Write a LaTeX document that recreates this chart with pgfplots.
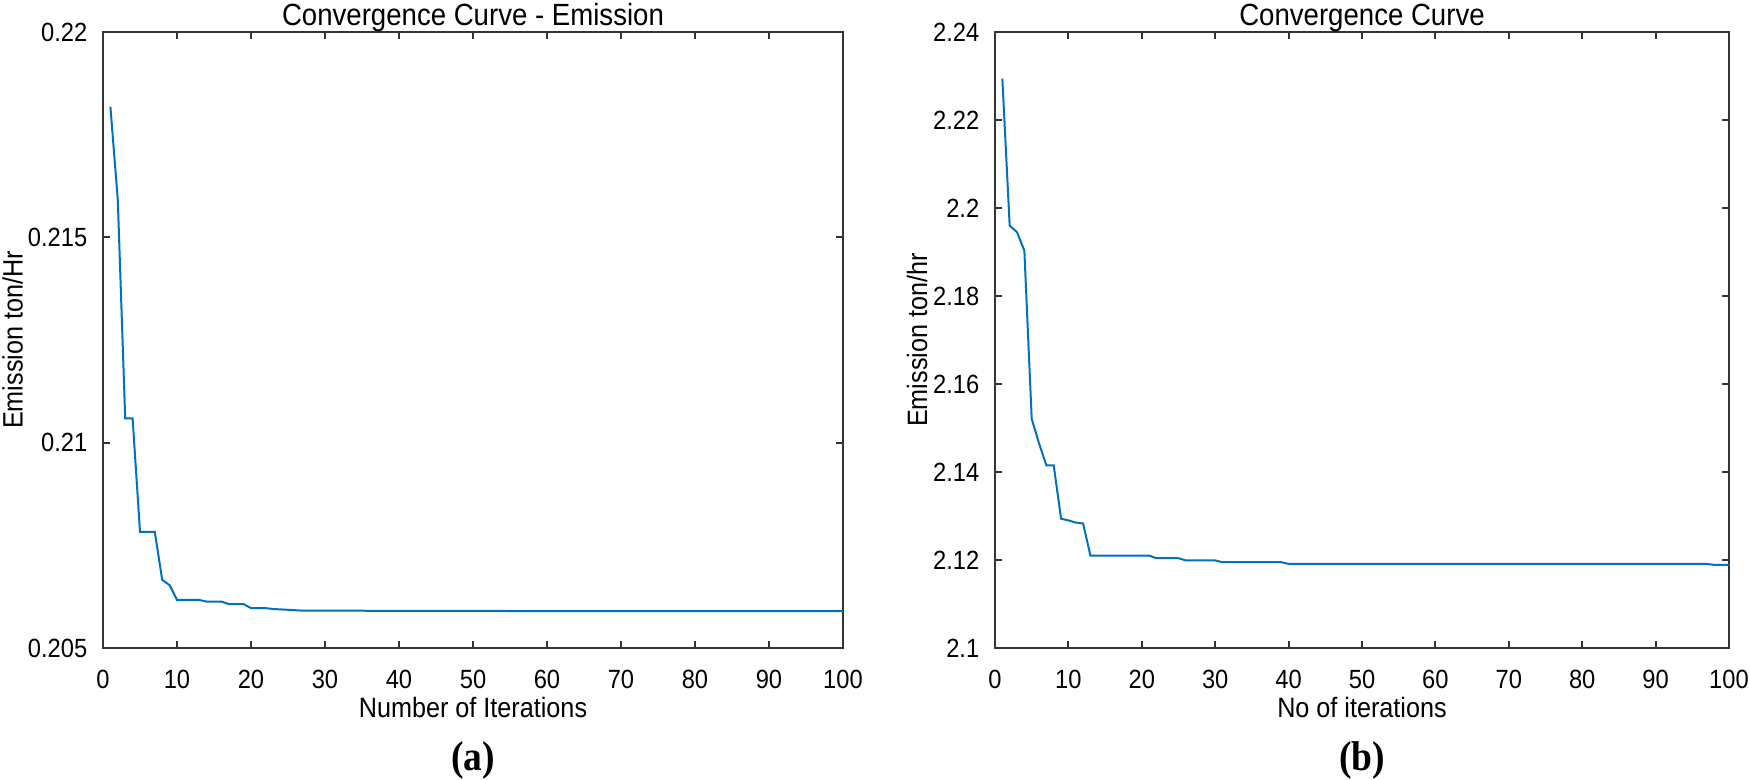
\documentclass[border=0pt]{standalone}
\usepackage{fontspec}
\setmainfont{Liberation Sans}[FakeStretch=0.9]
\newfontfamily\capfont{Liberation Serif}[FakeStretch=0.9]
\usepackage{pgfplots}
\pgfplotsset{compat=1.18}

\definecolor{mblue}{rgb}{0,0.447,0.741}
\definecolor{framec}{rgb}{0.2,0.2,0.2}

\pgfplotsset{
  conv/.style={
    scale only axis,
    height=184.8pt,
    anchor=south west,
    xmin=0, xmax=100,
    xtick={0,10,...,100},
    tick align=inside,
    xtick pos=both, ytick pos=both,
    xticklabel pos=lower, yticklabel pos=left,
    major tick length=2.1pt,
    axis line style={framec, line width=0.8pt},
    every tick/.style={framec, line width=0.6pt},
    tick label style={font=\fontsize{7.9}{8.5}\selectfont,
      /pgf/number format/assume math mode=true},
    xticklabel style={yshift=-3.2pt},
    yticklabel style={xshift=-1.2pt},
    every axis title/.style={at={(axis description cs:0.5,1)}, anchor=base,
      yshift=2.1pt, font=\fontsize{9.2}{10}\selectfont},
    every axis x label/.style={at={(axis description cs:0.5,0)}, anchor=base,
      yshift=-20.9pt, font=\fontsize{8.4}{9}\selectfont},
    scaled ticks=false,
  }
}

\begin{document}
\begin{tikzpicture}
\begin{axis}[conv,
  at={(30.9pt,39.3pt)},
  width=222pt,
  ymin=0.205, ymax=0.22,
  ytick={0.205,0.21,0.215,0.22},
  yticklabels={0.205,0.21,0.215,0.22},
  title={Convergence Curve - Emission},
  xlabel={Number of Iterations},
  ylabel={Emission ton/Hr},
  every axis y label/.style={at={(axis description cs:-0.122,0.5)}, rotate=90,
    anchor=center, font=\fontsize{8.4}{9}\selectfont},
]
\addplot [mblue, line width=0.6pt] coordinates {
(1,0.21818) (2,0.21591) (3,0.21059) (4,0.21059) (5,0.20783) (7,0.20783)
(8,0.20666) (9,0.20653) (10,0.20617) (13,0.20617) (14,0.20613) (16,0.20613)
(17,0.20607) (19,0.20607) (20,0.20597) (22,0.20597) (23,0.20595) (25,0.20593)
(27,0.20591) (58,0.20590) (100,0.20590)
};
\end{axis}

\begin{axis}[conv,
  at={(298.5pt,39.3pt)},
  width=220.2pt,
  ymin=2.1, ymax=2.24,
  ytick={2.1,2.12,2.14,2.16,2.18,2.2,2.22,2.24},
  yticklabels={2.1,2.12,2.14,2.16,2.18,2.2,2.22,2.24},
  title={Convergence Curve},
  xlabel={No of iterations},
  ylabel={Emission ton/hr},
  every axis y label/.style={at={(axis description cs:-0.106,0.5)}, rotate=90,
    anchor=center, font=\fontsize{8.4}{9}\selectfont},
]
\addplot [mblue, line width=0.6pt] coordinates {
(1,2.2294) (2,2.1960) (3,2.1945) (4,2.1903) (5,2.1521) (6,2.1465) (7,2.1415)
(8,2.1415) (9,2.1294) (10,2.1290) (11,2.1285) (12,2.1283) (13,2.1210)
(21,2.1210) (22,2.1204) (25,2.1204) (26,2.1199) (30,2.1199) (31,2.1195)
(39,2.1195) (40,2.1191) (97,2.1191) (98,2.1189) (100,2.1189)
};
\end{axis}

\node[font=\capfont\bfseries\fontsize{12.5}{13}\selectfont] at (141.9pt,5.7pt) {(a)};
\node[font=\capfont\bfseries\fontsize{12.5}{13}\selectfont] at (408.6pt,5.7pt) {(b)};

\pgfresetboundingbox
\useasboundingbox (0,0) rectangle (525pt,233.7pt);
\end{tikzpicture}
\end{document}
